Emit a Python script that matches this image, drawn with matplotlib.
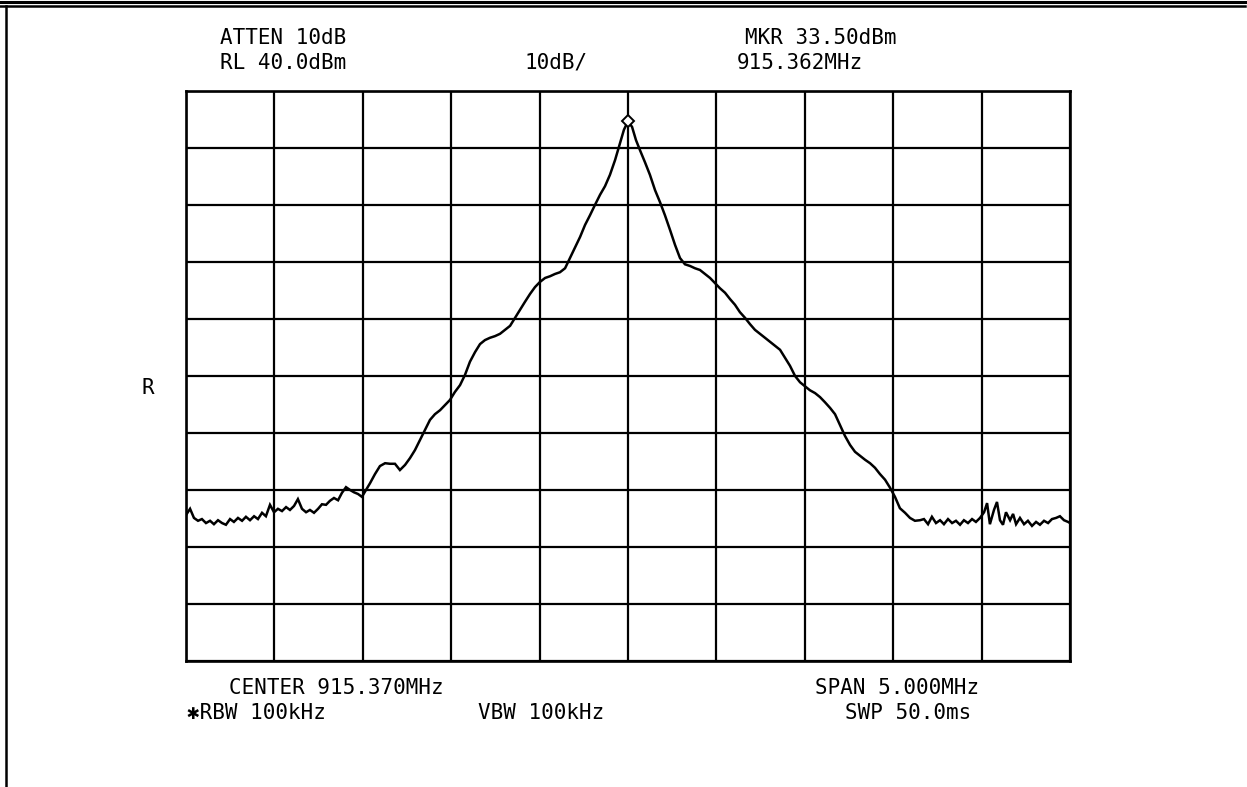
import numpy as np
import matplotlib
matplotlib.use("Agg")
import matplotlib.pyplot as plt
from matplotlib.lines import Line2D

# ---- instrument settings ----
center_mhz = 915.370
span_mhz = 5.000
ref_level_dbm = 40.0
db_per_div = 10.0
n_div = 10

# ---- trace: frequency (MHz) ----
freq_left_noise = [912.870, 912.893, 912.915, 912.938, 912.960, 912.983, 913.006, 913.028,
                   913.051, 913.074, 913.096, 913.119, 913.141, 913.164, 913.187, 913.209,
                   913.232, 913.255, 913.277, 913.300, 913.322, 913.345, 913.368, 913.390,
                   913.413, 913.436, 913.458, 913.481, 913.503, 913.526, 913.549, 913.571,
                   913.594, 913.617, 913.639, 913.662, 913.684, 913.707, 913.730, 913.752,
                   913.775, 913.798, 913.820, 913.843, 913.865, 913.888, 913.911]
level_left_noise = [-34.4, -33.3, -34.9, -35.4, -35.1, -35.8, -35.4, -36.0,
                    -35.3, -35.8, -36.1, -35.1, -35.6, -34.9, -35.4, -34.7,
                    -35.3, -34.6, -35.1, -34.0, -34.6, -32.6, -33.9, -33.3,
                    -33.7, -33.0, -33.5, -32.8, -31.6, -33.3, -33.9, -33.5,
                    -34.0, -33.3, -32.5, -32.6, -31.9, -31.4, -31.8, -30.5,
                    -29.5, -30.0, -30.4, -30.7, -31.2, -30.0, -28.8]

freq_signal = [913.939, 913.967, 913.996, 914.024, 914.052, 914.080, 914.109, 914.137,
               914.165, 914.194, 914.222, 914.250, 914.278, 914.307, 914.335, 914.363,
               914.391, 914.420, 914.448, 914.476, 914.505, 914.533, 914.561, 914.589,
               914.618, 914.646, 914.674, 914.703, 914.731, 914.759, 914.787, 914.816,
               914.844, 914.872, 914.901, 914.929, 914.957, 914.985, 915.014, 915.042,
               915.070, 915.099, 915.127, 915.155, 915.183, 915.212, 915.240, 915.268,
               915.297, 915.325, 915.347, 915.370, 915.393, 915.415, 915.438, 915.466,
               915.494, 915.523, 915.551, 915.579, 915.608, 915.636, 915.664, 915.692,
               915.721, 915.749, 915.777, 915.806, 915.834, 915.862, 915.890, 915.919,
               915.947, 915.975, 916.003, 916.032, 916.060, 916.088, 916.117, 916.145,
               916.173, 916.201, 916.230, 916.258, 916.286, 916.315, 916.343, 916.371,
               916.399, 916.428, 916.456, 916.484, 916.513, 916.541, 916.569, 916.597,
               916.626, 916.654, 916.682, 916.711, 916.739, 916.767, 916.795, 916.824,
               916.852, 916.880, 916.908, 916.937, 916.965, 916.993, 917.022]
level_signal = [-27.2, -25.8, -25.3, -25.4, -25.4, -26.5, -25.6, -24.4,
                -23.0, -21.2, -19.5, -17.7, -16.7, -16.0, -15.1, -14.2,
                -12.8, -11.6, -9.8, -7.5, -5.8, -4.4, -3.7, -3.3,
                -3.0, -2.6, -1.9, -1.2, 0.2, 1.6, 3.0, 4.4,
                5.6, 6.5, 7.2, 7.5, 7.9, 8.2, 8.9, 10.7,
                12.5, 14.4, 16.5, 18.2, 20.0, 21.8, 23.3, 25.3,
                27.9, 30.9, 33.2, 34.7, 33.7, 31.4, 29.6, 27.5,
                25.3, 22.6, 20.5, 18.2, 15.6, 13.0, 10.7, 9.6,
                9.3, 8.9, 8.6, 7.9, 7.2, 6.3, 5.4, 4.6,
                3.5, 2.5, 1.2, 0.2, -0.9, -1.9, -2.6, -3.3,
                -4.0, -4.7, -5.4, -6.8, -8.2, -10.0, -11.1, -11.8,
                -12.5, -13.0, -13.7, -14.6, -15.6, -16.7, -18.6, -20.5,
                -22.1, -23.3, -24.0, -24.7, -25.3, -26.1, -27.2, -28.2,
                -29.6, -31.2, -33.2, -34.0, -34.9, -35.4, -35.3]

freq_right_noise = [917.044, 917.067, 917.089, 917.112, 917.135, 917.157, 917.180, 917.203,
                    917.225, 917.248, 917.270, 917.293, 917.316, 917.338, 917.361, 917.384,
                    917.401, 917.417, 917.440, 917.457, 917.474, 917.491, 917.508, 917.531,
                    917.548, 917.565, 917.587, 917.610, 917.632, 917.655, 917.678, 917.700,
                    917.723, 917.746, 917.768, 917.791, 917.813, 917.836, 917.859, 917.870]
level_right_noise = [-35.1, -36.0, -34.7, -35.8, -35.3, -36.0, -35.1, -35.8,
                     -35.4, -36.1, -35.3, -35.8, -35.1, -35.6, -34.9, -33.9,
                     -32.3, -36.0, -33.5, -32.1, -35.3, -36.1, -33.9, -35.3,
                     -34.2, -36.0, -34.9, -36.0, -35.4, -36.3, -35.6, -36.1,
                     -35.4, -35.8, -35.1, -34.9, -34.6, -35.3, -35.6, -35.8]

# ---- annotation text ----
txt_atten = "ATTEN 10dB"
txt_rl = "RL 40.0dBm"
txt_scale = "10dB/"
txt_mkr = "MKR 33.50dBm"
txt_mkr_f = "915.362MHz"
txt_r = "R"
txt_center = "CENTER 915.370MHz"
txt_span = "SPAN 5.000MHz"
txt_rbw = "\u2731RBW 100kHz"
txt_vbw = "VBW 100kHz"
txt_swp = "SWP 50.0ms"

freq = np.array(freq_left_noise + freq_signal + freq_right_noise)
level = np.array(level_left_noise + level_signal + level_right_noise)

W, H = 1247, 787
fig = plt.figure(figsize=(W / 100, H / 100), dpi=100)
fig.patch.set_facecolor("white")

x0, x1, y0, y1 = 186, 1070, 91, 661
ax = fig.add_axes([x0 / W, 1 - y1 / H, (x1 - x0) / W, (y1 - y0) / H])

f_start = center_mhz - span_mhz / 2
f_stop = center_mhz + span_mhz / 2
bottom = ref_level_dbm - n_div * db_per_div
ax.set_xlim(f_start, f_stop)
ax.set_ylim(bottom, ref_level_dbm)
ax.set_xticks(np.linspace(f_start, f_stop, n_div + 1))
ax.set_yticks(np.linspace(bottom, ref_level_dbm, n_div + 1))
ax.tick_params(length=0, labelbottom=False, labelleft=False)
ax.grid(True, color="black", lw=1.6)
for s in ax.spines.values():
    s.set_linewidth(1.9)
    s.set_color("black")

ax.plot(freq, level, color="black", lw=1.8, solid_joinstyle="miter")
ipk = int(np.argmax(level))
ax.plot([freq[ipk]], [level[ipk]], marker="D", ms=6, mfc="white", mec="black", mew=1.4)

font = ["DejaVu Sans Mono", "DejaVu Sans"]
fs = 15

def put(s, cx, cy, ha="center"):
    fig.text(cx / W, 1 - cy / H, s, ha=ha, va="center", fontsize=fs,
             family=font, color="black", fontweight="light")

put(txt_atten, 283, 38)
put(txt_rl, 283, 63)
put(txt_scale, 556, 63)
put(txt_mkr, 821, 38)
put(txt_mkr_f, 800, 63)
put(txt_r, 148, 388)
put(txt_center, 336, 688)
put(txt_span, 897, 688)
put(txt_rbw, 256, 713)
put(txt_vbw, 541, 713)
put(txt_swp, 908, 713)

# outer frame (double rule at top, rule at left)
fig.add_artist(Line2D([0, 1245 / W], [1 - 1.5 / H, 1 - 1.5 / H], color="black", lw=2.2,
                      transform=fig.transFigure))
fig.add_artist(Line2D([0, 1245 / W], [1 - 5.5 / H, 1 - 5.5 / H], color="black", lw=1.8,
                      transform=fig.transFigure))
fig.add_artist(Line2D([5.5 / W, 5.5 / W], [0, 1 - 5.5 / H], color="black", lw=1.8,
                      transform=fig.transFigure))

fig.savefig("out.png", dpi=100, facecolor="white")
